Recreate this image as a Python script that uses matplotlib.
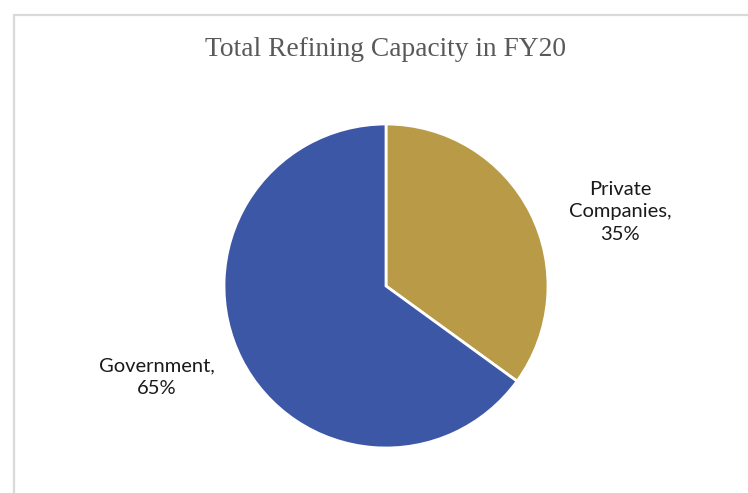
import matplotlib.pyplot as plt
from matplotlib.patches import Rectangle

labels = ['Private\nCompanies', 'Government']
shares = [35, 65]
colors = ['#B99A46', '#3D57A7']

W, H = 748, 493
fig = plt.figure(figsize=(W / 100, H / 100), dpi=100)

# light grey chart frame running off the right and bottom edges
fig.patches.append(Rectangle((13.5 / W, -0.1), 2, (H - 14.5) / H + 0.1,
                             transform=fig.transFigure, fill=False,
                             edgecolor='#d9d9d9', linewidth=1.6))

cx, cy, r = 386, 286, 162
ax = fig.add_axes([(cx - r) / W, (H - cy - r) / H, 2 * r / W, 2 * r / H])
ax.pie(shares, colors=colors, startangle=90, counterclock=False,
       wedgeprops=dict(edgecolor='white', linewidth=2))
ax.set_xlim(-1, 1)
ax.set_ylim(-1, 1)
ax.axis('off')

label_pos = [(1.444, 0.457), (-1.414, -0.562)]
for lab, val, (x, y) in zip(labels, shares, label_pos):
    ax.text(x, y, f'{lab},\n{val}%', ha='center', va='center',
            family='Lato', fontsize=14.5, color='#1a1a1a', linespacing=1.38)

fig.text(cx / W, 1 - 50 / H, 'Total Refining Capacity in FY20',
         ha='center', va='center', family='Liberation Serif',
         fontsize=19.8, color='#595959')

fig.savefig('out.png', dpi=100)
